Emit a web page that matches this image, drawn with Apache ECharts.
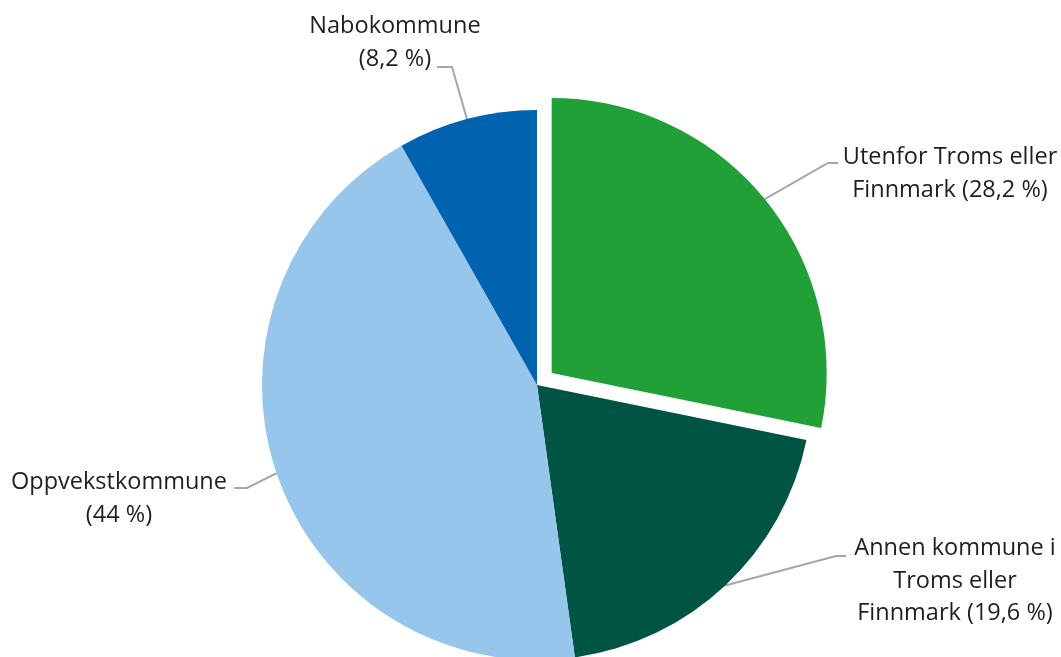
<!DOCTYPE html>
<html>
<head>
<meta charset="utf-8">
<title>Bosted</title>
<script src="https://cdn.jsdelivr.net/npm/echarts@6/dist/echarts.min.js"></script>
<style>
html, body { margin: 0; padding: 0; background: #fff; }
#chart { width: 1061px; height: 657px; }
</style>
</head>
<body>
<div id="chart"></div>
<script>
// data, clockwise from top
var categories = ['Utenfor Troms eller\nFinnmark', 'Annen kommune i\nTroms eller\nFinnmark', 'Oppvekstkommune', 'Nabokommune'];
var values = [28.2, 19.6, 44, 8.2];
var colors = ['#21a038', '#005444', '#96c6ec', '#0063b0'];
var exploded = [true, false, false, false];

// label anchors (centre of text block) and leader bends, in px
var labelAt = [[950, 174], [955, 581], [119, 499], [395, 43]];
var bendAt = [[828, 163], [836, 556], [247, 488], [452, 67]];
var endAt = [[838, 163], [846, 556], [234, 488], [437, 67]];

var center = [537, 385];
var explodeDist = 19;

function fmt(v) {
	return String(v).replace('.', ',') + ' %';
}

var total = 0;
for (var i = 0; i < values.length; i++) total += values[i];

// offset for the pulled-out slice, along its mid angle
var acc = 0, offCenter = center;
for (var i = 0; i < values.length; i++) {
	if (exploded[i]) {
		var mid = (acc + values[i] / 2) / total * Math.PI * 2;
		offCenter = [center[0] + explodeDist * Math.sin(mid), center[1] - explodeDist * Math.cos(mid)];
	}
	acc += values[i];
}

// build data for one layer: only items where keep(i) is true are visible
function layerData(keep) {
	var out = [];
	for (var i = 0; i < values.length; i++) {
		var on = keep(i);
		out.push({
			name: categories[i],
			value: values[i],
			itemStyle: { color: colors[i], opacity: on ? 1 : 0 },
			label: { show: on },
			labelLine: { show: on }
		});
	}
	return out;
}

var baseSeries = {
	type: 'pie',
	radius: 275,
	startAngle: 90,
	clockwise: true,
	silent: true,
	avoidLabelOverlap: false,
	emphasis: { disabled: true },
	itemStyle: { borderWidth: 0 },
	label: {
		show: true,
		position: 'outside',
		fontFamily: 'Open Sans',
		fontSize: 23.5,
		lineHeight: 32.5,
		color: '#1e1e1e',
		align: 'center',
		formatter: function (p) {
			var sep = p.name.indexOf('\n') >= 0 ? ' ' : '\n';
			return p.name + sep + '(' + fmt(p.value) + ')';
		}
	},
	labelLine: {
		show: true,
		lineStyle: { color: '#a6a6a6', width: 2 }
	},
	labelLayout: function (params) {
		var i = params.dataIndex;
		var p0 = params.labelLinePoints ? params.labelLinePoints[0] : bendAt[i];
		return {
			x: labelAt[i][0],
			y: labelAt[i][1],
			align: 'center',
			verticalAlign: 'middle',
			labelLinePoints: [p0, bendAt[i], endAt[i]]
		};
	}
};

var chart = echarts.init(document.getElementById('chart'), null, { renderer: 'canvas' });
chart.setOption({
	animation: false,
	series: [
		echarts.util.merge({ center: center, data: layerData(function (i) { return !exploded[i]; }) }, baseSeries),
		echarts.util.merge({ center: offCenter, data: layerData(function (i) { return exploded[i]; }) }, baseSeries)
	]
});
</script>
</body>
</html>
